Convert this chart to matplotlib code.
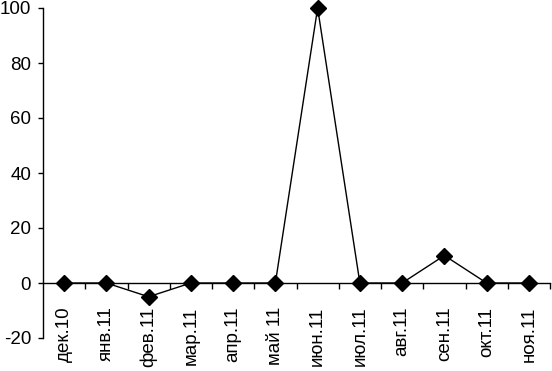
import numpy as np
import matplotlib.pyplot as plt

plt.rcParams['font.family'] = ['Liberation Sans', 'DejaVu Sans']
plt.rcParams['axes.unicode_minus'] = False

# Data
months = ["дек.10", "янв.11", "фев.11", "мар.11", "апр.11", "май 11",
          "июн.11", "июл.11", "авг.11", "сен.11", "окт.11", "ноя.11"]
values = [0, 0, -5, 0, 0, 0, 100, 0, 0, 10, 0, 0]
yticks = [-20, 0, 20, 40, 60, 80, 100]

fig = plt.figure(figsize=(5.52, 3.71), dpi=100)
ax = fig.add_axes([43 / 552, 33 / 371, 507 / 552, 330 / 371])

x = np.arange(len(months))
ax.plot(x, values, color='black', lw=1, marker='D', markersize=8.5,
        markerfacecolor='black', markeredgecolor='black', clip_on=False, zorder=3)

ax.set_xlim(-0.5, len(months) - 0.5)
ax.set_ylim(-20, 100)
ax.set_yticks(yticks)

# x axis drawn along y = 0
ax.spines['top'].set_visible(False)
ax.spines['right'].set_visible(False)
ax.spines['bottom'].set_position(('data', 0))
ax.spines['bottom'].set_linewidth(1)
ax.spines['left'].set_linewidth(1)

ax.set_xticks(x)
ax.set_xticklabels(months, rotation=90, fontsize=13.5)
ax.set_xticks(np.arange(0.5, len(months), 1), minor=True)
ax.tick_params(axis='x', which='major', length=0, pad=17)
ax.tick_params(axis='x', which='minor', length=4.3, direction='out', width=1)
ax.tick_params(axis='y', length=3.6, direction='out', width=1, pad=5, labelsize=13.5)

fig.savefig("out.png", dpi=100)
